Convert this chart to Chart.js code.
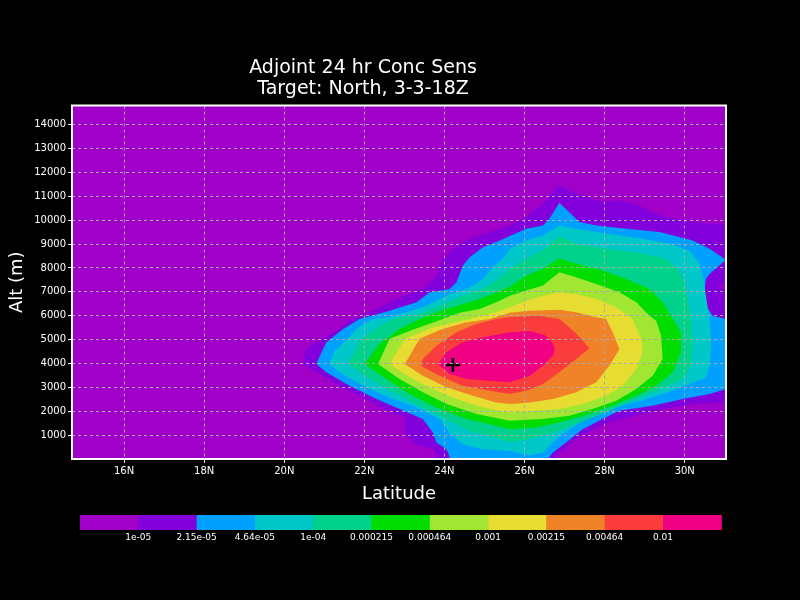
<!DOCTYPE html>
<html><head><meta charset="utf-8">
<script src="https://cdn.jsdelivr.net/npm/chart.js@4/dist/chart.umd.min.js"></script>
<style>html,body{margin:0;padding:0;background:#000;}</style>
</head><body>
<canvas id="c" width="800" height="600"></canvas>
<script>
// ---- axes ----
const latTicks = [16, 18, 20, 22, 24, 26, 28, 30];
const altTicks = [1000,2000,3000,4000,5000,6000,7000,8000,9000,10000,11000,12000,13000,14000];

// ---- colour levels (legend) ----
const levelLabels = ['1e-05','2.15e-05','4.64e-05','1e-04','0.000215','0.000464','0.001','0.00215','0.00464','0.01'];
const levelColors = ['#a000c8','#8200dc','#00a0ff','#00c8c8','#00d28c','#00dc00','#a0e632','#e6dc32','#f08228','#fa3c3c','#f00082'];

// ---- contour regions [lat, alt(m)], region >= level ----
const c_1e05 = [[20.47,4110],[20.55,4610],[20.96,5030],[21.38,5440],[21.63,5860],[21.88,5950],[22.30,6280],[22.80,6700],[23.55,7190],[23.80,7680],[23.96,8380],[24.21,8800],[24.63,9220],[25.13,9500],[25.63,9780],[26.04,10130],[26.46,10690],[26.87,11450],[27.29,11100],[27.79,10820],[28.12,10780],[28.45,10820],[28.94,10560],[29.37,10200],[29.94,9990],[30.62,9850],[31.3,9780],[31.3,7540],[30.82,7200],[31.3,6870],[31.3,2370],[30.28,2300],[29.45,2090],[28.79,1810],[28.12,1530],[27.70,1250],[27.29,830],[26.96,410],[26.79,80],[26.75,-300],[23.78,-300],[23.80,80],[23.74,380],[23.26,640],[23.13,830],[23.01,1170],[23.01,1760],[22.63,1970],[22.05,2510],[21.38,3070],[20.80,3640],[20.51,3930]];
const c_215e05 = [[20.80,3980],[20.93,4470],[21.05,4890],[21.47,5440],[21.88,5860],[22.63,6210],[23.30,6560],[23.63,6980],[24.13,7120],[24.30,7400],[24.46,8100],[24.63,8450],[24.96,8870],[25.38,9150],[25.63,9340],[26.04,9640],[26.46,9780],[26.62,10060],[26.87,10730],[27.37,9920],[27.79,9780],[28.54,9640],[29.37,9500],[30.20,9150],[30.62,8800],[31.03,8340],[30.62,7750],[30.53,7540],[30.49,6980],[30.53,6420],[30.70,6000],[31.03,5860],[31.3,5860],[31.3,3070],[30.62,2720],[29.95,2510],[29.20,2230],[28.37,2020],[27.95,1670],[27.45,1250],[27.04,690],[26.71,270],[26.62,80],[26.60,-300],[24.12,-300],[24.13,80],[24.05,410],[23.80,690],[23.71,1110],[23.46,1670],[22.88,2090],[22.30,2510],[21.63,3070],[21.05,3630]];
const c_464e05 = [[21.13,3980],[21.26,4520],[21.59,5030],[21.80,5440],[22.22,5860],[22.63,5950],[23.46,6350],[24.13,6910],[24.55,7120],[24.71,7260],[24.96,7540],[25.21,8030],[25.46,8380],[25.63,8800],[26.04,9150],[26.46,9360],[26.87,9780],[27.29,9640],[27.79,9500],[28.37,9360],[28.95,9220],[29.62,9010],[30.12,8720],[30.37,8170],[30.47,7540],[30.54,6700],[30.62,5860],[30.66,4740],[30.62,3910],[30.53,3420],[30.12,3140],[29.45,2720],[28.95,2470],[28.45,2260],[28.04,2050],[27.54,1670],[27.21,1340],[26.87,960],[26.62,550],[26.46,270],[26.13,160],[25.63,330],[24.96,410],[24.46,620],[24.13,1110],[23.88,1670],[23.30,2160],[22.63,2580],[21.97,3070],[21.38,3630]];
const c_1e04 = [[21.59,3980],[21.93,5030],[22.38,5570],[22.71,5860],[23.30,6030],[23.88,6420],[24.46,6840],[24.96,7120],[25.29,7470],[25.63,7960],[26.04,8380],[26.46,8730],[26.87,9330],[27.29,9010],[27.79,8870],[28.37,8730],[28.95,8590],[29.54,8380],[29.87,7890],[29.99,7400],[30.07,6700],[30.16,5860],[30.20,4890],[30.16,3910],[29.95,3350],[29.37,2890],[28.79,2510],[28.29,2130],[27.79,1800],[27.21,1420],[26.62,1040],[25.96,790],[25.63,710],[25.13,960],[24.63,1170],[24.05,1670],[23.46,2160],[22.80,2720],[22.13,3350]];
const c_215e04 = [[22.01,3980],[22.38,4820],[22.88,5440],[23.38,5860],[23.88,6200],[24.38,6450],[24.88,6700],[25.38,7040],[25.63,7210],[26.04,7670],[26.46,7960],[26.87,8410],[27.29,8170],[27.95,7890],[28.54,7540],[29.12,7120],[29.45,6560],[29.70,5860],[29.91,5310],[29.91,4470],[29.70,3630],[29.29,3070],[28.79,2650],[28.20,2230],[27.62,1880],[27.04,1600],[26.29,1320],[25.63,1250],[25.13,1460],[24.55,1670],[23.80,2160],[23.13,2720],[22.55,3350]];
const c_464e04 = [[22.34,3980],[22.63,5030],[23.26,5440],[23.96,5860],[24.38,6120],[24.88,6280],[25.29,6560],[25.63,6840],[26.04,7050],[26.46,7260],[26.87,7820],[27.29,7610],[27.79,7330],[28.37,6980],[28.79,6560],[29.12,6000],[29.29,5780],[29.41,5160],[29.45,4190],[29.20,3490],[28.79,2930],[28.29,2440],[27.70,2090],[27.12,1810],[26.46,1670],[25.63,1600],[24.80,1880],[24.05,2300],[23.46,2790],[22.88,3350]];
const c_1e03 = [[22.63,3980],[23.01,5030],[23.75,5530],[24.63,5860],[25.29,6140],[25.63,6350],[26.04,6630],[26.46,6840],[26.87,6980],[27.29,6910],[27.79,6700],[28.29,6350],[28.70,5860],[28.91,5030],[28.95,4470],[28.79,3770],[28.45,3070],[28.04,2650],[27.45,2300],[26.87,2090],[26.29,2020],[25.63,1950],[24.96,2160],[24.30,2510],[23.71,2930],[23.13,3420]];
const c_215e03 = [[23.01,3980],[23.38,5030],[23.88,5400],[24.50,5700],[25.13,5860],[25.63,6120],[26.13,6210],[26.87,6250],[27.29,6140],[27.75,5950],[28.04,5860],[28.20,5310],[28.37,4610],[28.12,3910],[27.79,3210],[27.29,2790],[26.71,2510],[26.13,2370],[25.63,2300],[25.29,2370],[24.71,2650],[24.05,3000],[23.46,3490]];
const c_464e03 = [[23.42,3980],[23.46,4190],[23.80,4740],[24.30,5310],[24.80,5650],[25.29,5860],[25.63,5950],[26.37,5990],[26.87,5860],[27.25,5320],[27.62,4640],[27.29,4190],[26.87,3630],[26.46,3140],[26.04,2860],[25.63,2720],[25.13,2860],[24.46,3070],[23.88,3490],[23.46,3850]];
const c_1e02 = [[23.84,3980],[24.05,4470],[24.46,4890],[24.96,5100],[25.63,5310],[26.13,5360],[26.50,5190],[26.71,4820],[26.75,4610],[26.71,4330],[26.46,3910],[26.13,3490],[25.63,3210],[25.13,3280],[24.55,3350],[24.13,3560]];
const contourRegions = [c_1e05, c_215e05, c_464e05, c_1e04, c_215e04, c_464e04, c_1e03, c_215e03, c_464e03, c_1e02];

// ---- target marker ----
const targetPoint = [24.21, 3940];

const FONT = 'DejaVu Sans';

const datasets = contourRegions.map((poly, i) => ({
  label: levelLabels[i],
  data: poly.map(p => ({x: p[0], y: p[1]})),
  backgroundColor: levelColors[i + 1],
  borderColor: 'rgba(0,0,0,0)',
  borderWidth: 0,
  pointRadius: 0,
  fill: 'shape',
  tension: 0,
  order: 50 - i
}));
datasets.push({
  label: 'target',
  data: [{x: targetPoint[0], y: targetPoint[1]}],
  showLine: false,
  pointStyle: 'cross',
  pointRadius: 7,
  pointBorderWidth: 2.5,
  pointBorderColor: '#000',
  borderColor: '#000',
  backgroundColor: '#000',
  fill: false,
  order: 0
});

const bgPlugin = {
  id: 'bg',
  beforeDraw(chart) {
    const {ctx, chartArea: a} = chart;
    ctx.save();
    ctx.fillStyle = '#000';
    ctx.fillRect(0, 0, chart.width, chart.height);
    ctx.fillStyle = levelColors[0];
    ctx.fillRect(a.left, a.top, a.right - a.left, a.bottom - a.top);
    ctx.restore();
  },
  afterDraw(chart) {
    const {ctx, chartArea: a} = chart;
    ctx.save();
    ctx.setLineDash([]);
    ctx.strokeStyle = '#fff';
    ctx.lineWidth = 2;
    ctx.strokeRect(a.left, a.top, a.right - a.left, a.bottom - a.top);
    // colour bar
    const x0 = 80, w = 58.3, y0 = 515, h = 15;
    levelColors.forEach((c, i) => {
      ctx.fillStyle = c;
      ctx.fillRect(x0 + i * w, y0, w + 0.5, h);
    });
    ctx.fillStyle = '#fff';
    ctx.font = '9px "' + FONT + '"';
    ctx.textAlign = 'center';
    ctx.textBaseline = 'middle';
    levelLabels.forEach((t, i) => {
      ctx.fillText(t, x0 + (i + 1) * w, 538);
    });
    ctx.restore();
  }
};

new Chart(document.getElementById('c'), {
  type: 'line',
  data: {datasets},
  options: {
    responsive: false,
    animation: false,
    events: [],
    layout: {padding: {left: 0, right: 74, top: 0, bottom: 0}},
    plugins: {
      legend: {display: false},
      tooltip: {enabled: false},
      title: {
        display: true,
        text: ['Adjoint 24 hr Conc Sens', 'Target: North, 3-3-18Z'],
        color: '#fff',
        font: {family: FONT, size: 19, weight: 'normal', lineHeight: 1.1},
        padding: {top: 58, bottom: 5.7}
      }
    },
    scales: {
      x: {
        type: 'linear',
        min: 14.7, max: 31.03,
        afterBuildTicks: ax => { ax.ticks = latTicks.map(v => ({value: v})); },
        afterFit: ax => { ax.height = 141; },
        ticks: {color: '#fff', font: {family: FONT, size: 10}, padding: 2, maxRotation: 0,
                callback: v => v + 'N'},
        grid: {color: '#aaaaaa', lineWidth: 1, z: 1, tickLength: 4, tickColor: '#fff', tickBorderDash: [], borderDash: [3, 3]},
        border: {display: false, dash: [3, 3]},
        title: {display: true, text: 'Latitude', color: '#fff',
                font: {family: FONT, size: 18, lineHeight: 1.2}, padding: {top: 0, bottom: 95}}
      },
      y: {
        type: 'linear',
        min: 0, max: 14800,
        afterBuildTicks: ax => { ax.ticks = altTicks.map(v => ({value: v})); },
        afterFit: ax => { ax.width = 72; },
        ticks: {color: '#fff', font: {family: FONT, size: 10}, padding: 2,
                callback: v => String(v)},
        grid: {color: '#aaaaaa', lineWidth: 1, z: 1, tickLength: 4, tickColor: '#fff', tickBorderDash: [], borderDash: [3, 3]},
        border: {display: false, dash: [3, 3]},
        title: {display: true, text: 'Alt (m)', color: '#fff',
                font: {family: FONT, size: 18, lineHeight: 1.2}, padding: {top: 7, bottom: 0}}
      }
    }
  },
  plugins: [bgPlugin]
});
</script>
</body></html>
